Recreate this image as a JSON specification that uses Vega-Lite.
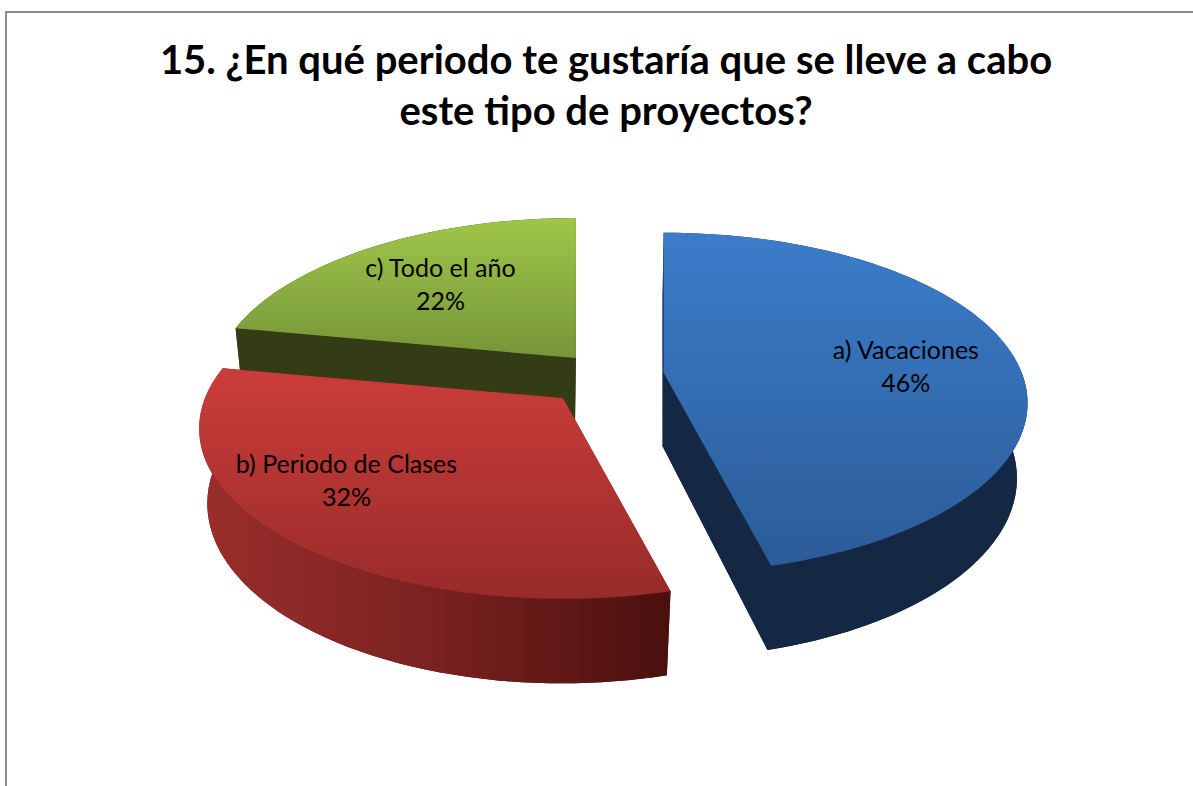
{
"$schema":"https://vega.github.io/schema/vega-lite/v6.json",
"width":1192,"height":780,"autosize":"none",
"padding":{"left":6,"top":12,"right":0,"bottom":0},
"background":"white",
"view":{"stroke":"#8c8c8c","strokeWidth":2,"fill":"white"},
"title":{"text":["15. ¿En qué periodo te gustaría que se lleve a cabo","este tipo de proyectos?"],"font":"Lato","fontSize":40,"fontWeight":"bold","color":"black","lineHeight":51,"anchor":"middle","dx":4,"offset":-161,"baseline":"bottom"},
"data":{"values":[
{"slice":"a) Vacaciones","value":46},
{"slice":"b) Periodo de Clases","value":32},
{"slice":"c) Todo el año","value":22}
]},
"transform":[
{"joinaggregate":[{"op":"sum","field":"value","as":"total"}]},
{"window":[{"op":"sum","field":"value","as":"cum"}],"sort":[{"field":"slice","order":"ascending"}]},
{"calculate":"2*PI*(datum.cum-datum.value)/datum.total","as":"t0"},
{"calculate":"2*PI*datum.cum/datum.total","as":"t1"},
{"calculate":"(datum.t0+datum.t1)/2","as":"tm"},
{"calculate":"round(3580*sin(datum.t0)/(1+0.178*cos(datum.t0)))/10","as":"x0"},
{"calculate":"round(-1650*cos(datum.t0)/(1+0.178*cos(datum.t0)))/10","as":"y0"},
{"calculate":"round(3580*sin(datum.t1)/(1+0.178*cos(datum.t1)))/10","as":"x1"},
{"calculate":"round(-1650*cos(datum.t1)/(1+0.178*cos(datum.t1)))/10","as":"y1"},
{"calculate":"358*sin(datum.tm)/(1+0.178*cos(datum.tm))","as":"mx"},
{"calculate":"-165*cos(datum.tm)/(1+0.178*cos(datum.tm))","as":"my"},
{"calculate":"602+0.16*datum.mx","as":"ax"},
{"calculate":"364+0.16*datum.my","as":"ay"},
{"calculate":"602+0.16*datum.mx+0.68*datum.mx","as":"lx"},
{"calculate":"364+0.16*datum.my+0.68*datum.my","as":"ly"},
{"calculate":"round(9.75*datum.x0-10)/10+','+round(10.55*datum.y0+735)/10","as":"b0"},
{"calculate":"round(9.75*datum.x1-10)/10+','+round(10.55*datum.y1+735)/10","as":"b1"},
{"calculate":"'M0,0L'+datum.x0+','+datum.y0+'A363.8,170.4,0,0,1,'+datum.x1+','+datum.y1+'Z'","as":"pTop"},
{"calculate":"'M-1,73.5L'+datum.b0+'A354.7,179.8,0,0,1,'+datum.b1+'Z'","as":"pBottom"},
{"calculate":"'M'+datum.x0+','+datum.y0+'A363.8,170.4,0,0,1,'+datum.x1+','+datum.y1+'L'+datum.b1+'A354.7,179.8,0,0,0,'+datum.b0+'Z'","as":"pOuter"},
{"calculate":"'M0,0L'+datum.x0+','+datum.y0+'L'+datum.b0+'L-1,73.5Z'","as":"pR0"},
{"calculate":"'M0,0L'+datum.x1+','+datum.y1+'L'+datum.b1+'L-1,73.5Z'","as":"pR1"},
{"calculate":"datum.slice+'\\n'+datum.value+'%'","as":"label"}
],
"encoding":{
"x":{"field":"ax","type":"quantitative","scale":null,"axis":null},
"y":{"field":"ay","type":"quantitative","scale":null,"axis":null},
"size":{"value":4}
},
"layer":[
{"transform":[{"filter":"datum.slice=='c) Todo el año'"},{"fold":["pBottom","pR0","pR1","pOuter"],"as":["part","p"]}],
 "mark":{"type":"point","filled":true,"opacity":1,"fill":"#333c15"},
 "encoding":{"shape":{"field":"p","type":"nominal","scale":null}}},
{"transform":[{"filter":"datum.slice=='a) Vacaciones'"},{"fold":["pBottom","pR0","pR1","pOuter"],"as":["part","p"]}],
 "mark":{"type":"point","filled":true,"opacity":1,"fill":"#152843"},
 "encoding":{"shape":{"field":"p","type":"nominal","scale":null}}},
{"transform":[{"filter":"datum.slice=='b) Periodo de Clases'"},{"fold":["pBottom","pR0","pR1"],"as":["part","p"]}],
 "mark":{"type":"point","filled":true,"opacity":1,"fill":"#4a100e"},
 "encoding":{"shape":{"field":"p","type":"nominal","scale":null}}},
{"transform":[{"filter":"datum.slice=='b) Periodo de Clases'"}],
 "mark":{"type":"point","filled":true,"opacity":1,"fill":{"gradient":"linear","x1":0,"y1":0,"x2":1,"y2":0,"stops":[{"offset":0,"color":"#9a2e2b"},{"offset":0.5,"color":"#7a2220"},{"offset":1,"color":"#4a100e"}]}},
 "encoding":{"shape":{"field":"pOuter","type":"nominal","scale":null}}},
{"transform":[{"filter":"datum.slice=='c) Todo el año'"}],
 "mark":{"type":"point","filled":true,"opacity":1,"fill":{"gradient":"linear","x1":0,"y1":0,"x2":0,"y2":1,"stops":[{"offset":0,"color":"#9fc649"},{"offset":1,"color":"#769538"}]}},
 "encoding":{"shape":{"field":"pTop","type":"nominal","scale":null}}},
{"transform":[{"filter":"datum.slice=='a) Vacaciones'"}],
 "mark":{"type":"point","filled":true,"opacity":1,"fill":{"gradient":"linear","x1":0,"y1":0,"x2":0,"y2":1,"stops":[{"offset":0,"color":"#3b7dca"},{"offset":1,"color":"#2c5b98"}]}},
 "encoding":{"shape":{"field":"pTop","type":"nominal","scale":null}}},
{"transform":[{"filter":"datum.slice=='b) Periodo de Clases'"}],
 "mark":{"type":"point","filled":true,"opacity":1,"fill":{"gradient":"linear","x1":0,"y1":0,"x2":0,"y2":1,"stops":[{"offset":0,"color":"#cb3d39"},{"offset":1,"color":"#982b2a"}]}},
 "encoding":{"shape":{"field":"pTop","type":"nominal","scale":null}}},
{"transform":[{"filter":"datum.slice=='a) Vacaciones'"}],
 "mark":{"type":"text","font":"Lato","fontSize":25,"color":"black","lineBreak":"\n","lineHeight":33,"align":"center","baseline":"middle","dx":6,"dy":-8},
 "encoding":{"x":{"field":"lx","type":"quantitative","scale":null,"axis":null},"y":{"field":"ly","type":"quantitative","scale":null,"axis":null},"text":{"field":"label"},"size":{"value":25}}},
{"transform":[{"filter":"datum.slice=='b) Periodo de Clases'"}],
 "mark":{"type":"text","font":"Lato","fontSize":25,"color":"black","lineBreak":"\n","lineHeight":33,"align":"center","baseline":"middle","dx":-25,"dy":-27},
 "encoding":{"x":{"field":"lx","type":"quantitative","scale":null,"axis":null},"y":{"field":"ly","type":"quantitative","scale":null,"axis":null},"text":{"field":"label"},"size":{"value":25}}},
{"transform":[{"filter":"datum.slice=='c) Todo el año'"}],
 "mark":{"type":"text","font":"Lato","fontSize":25,"color":"black","lineBreak":"\n","lineHeight":33,"align":"center","baseline":"middle","dx":1,"dy":-13},
 "encoding":{"x":{"field":"lx","type":"quantitative","scale":null,"axis":null},"y":{"field":"ly","type":"quantitative","scale":null,"axis":null},"text":{"field":"label"},"size":{"value":25}}}
]
}
